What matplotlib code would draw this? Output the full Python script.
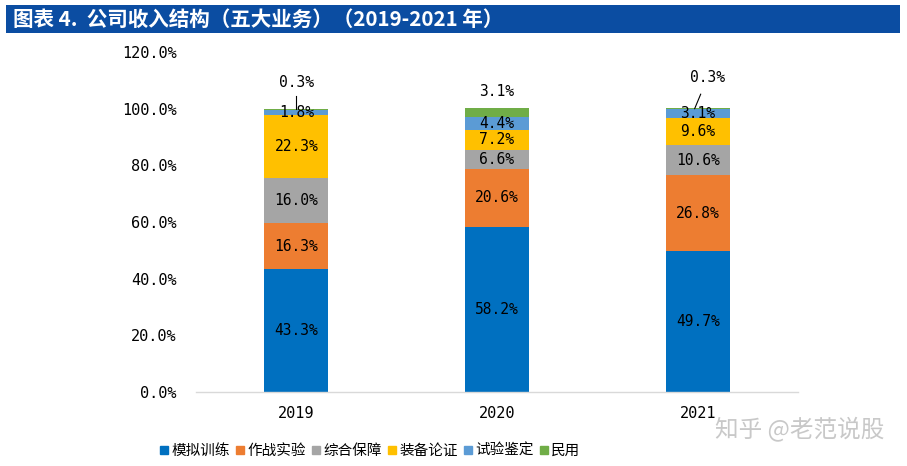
import matplotlib
matplotlib.use("Agg")
import matplotlib.pyplot as plt
from matplotlib.patches import Rectangle
from matplotlib.lines import Line2D
import numpy as np

plt.rcParams['font.family'] = ['Noto Sans CJK SC', 'DejaVu Sans']

years = ["2019", "2020", "2021"]
series_names = ["模拟训练", "作战实验", "综合保障", "装备论证", "试验鉴定", "民用"]
values = {
    "模拟训练": [43.3, 58.2, 49.7],
    "作战实验": [16.3, 20.6, 26.8],
    "综合保障": [16.0, 6.6, 10.6],
    "装备论证": [22.3, 7.2, 9.6],
    "试验鉴定": [1.8, 4.4, 3.1],
    "民用": [0.3, 3.1, 0.3],
}
colors = ["#0070C0", "#ED7D31", "#A5A5A5", "#FFC000", "#5B9BD5", "#70AD47"]
yticks = [0, 20, 40, 60, 80, 100, 120]

fig = plt.figure(figsize=(9.07, 4.66), dpi=100)

# title bar
fig.patches.append(Rectangle((6/907, 1-33/466), 894/907, 28/466, transform=fig.transFigure,
                             facecolor="#0B4DA2", edgecolor="none", zorder=0))
fig.text(13/907, 1-19/466, "图表 4.  公司收入结构（五大业务）（2019-2021 年）", color="white",
         fontsize=14.8, fontweight="bold", va="center", ha="left")

ax = fig.add_axes([196/907, 74/466, 602/907, 340/466])
x = np.arange(len(years))
width = 0.32
bottom = np.zeros(len(years))
mono = ['DejaVu Sans Mono']
for name, c in zip(series_names, colors):
    v = np.array(values[name])
    ax.bar(x, v, width, bottom=bottom, color=c, edgecolor="none", zorder=2)
    for i in range(len(years)):
        center = bottom[i] + v[i] / 2
        lbl = f"{v[i]:.1f}%"
        if name == "民用":
            if i == 1:
                ax.text(x[i], bottom[i] + v[i] + 5.8, lbl, ha="center", va="center",
                        fontsize=10.5, family=mono, color="black")
            elif i == 0:
                ax.text(x[i], 109.3, lbl, ha="center", va="center",
                        fontsize=10.5, family=mono, color="black")
                ax.plot([x[i], x[i]], [104.3, 99.8], color="black", lw=0.8, zorder=3)
            else:
                ax.text(x[i] + 0.05, 111.0, lbl, ha="center", va="center",
                        fontsize=10.5, family=mono, color="black")
                ax.plot([x[i] + 0.015, x[i] - 0.015], [105.1, 100.0], color="black", lw=0.8, zorder=3)
        else:
            ax.text(x[i], center, lbl, ha="center", va="center",
                    fontsize=10.5, family=mono, color="black", zorder=4)
    bottom += v

ax.set_xlim(-0.5, 2.5)
ax.set_ylim(0, 120)
ax.set_yticks(yticks)
ax.set_yticklabels([f"{t:.1f}%" for t in yticks], family=mono, fontsize=11)
ax.set_xticks(x)
ax.set_xticklabels(years, family=mono, fontsize=11)
ax.tick_params(axis="both", length=0)
ax.tick_params(axis="y", pad=14)
ax.tick_params(axis="x", pad=10)
for s in ["top", "right", "left"]:
    ax.spines[s].set_visible(False)
ax.spines["bottom"].set_color("#D9D9D9")
ax.spines["bottom"].set_linewidth(1.0)

handles = [Line2D([], [], marker="s", linestyle="none", markersize=6, color=c) for c in colors]
fig.legend(handles, series_names, loc="center", bbox_to_anchor=(370/907, 15/466), ncol=6,
           frameon=False, fontsize=10.5, handlelength=0.6, handletextpad=0.2, columnspacing=0.4)

fig.text(800/907, 1-430/466, "知乎 @老范说股", color="#BBBBBB", alpha=0.8, fontsize=17,
         ha="center", va="center")

fig.savefig("out.png", dpi=100)
